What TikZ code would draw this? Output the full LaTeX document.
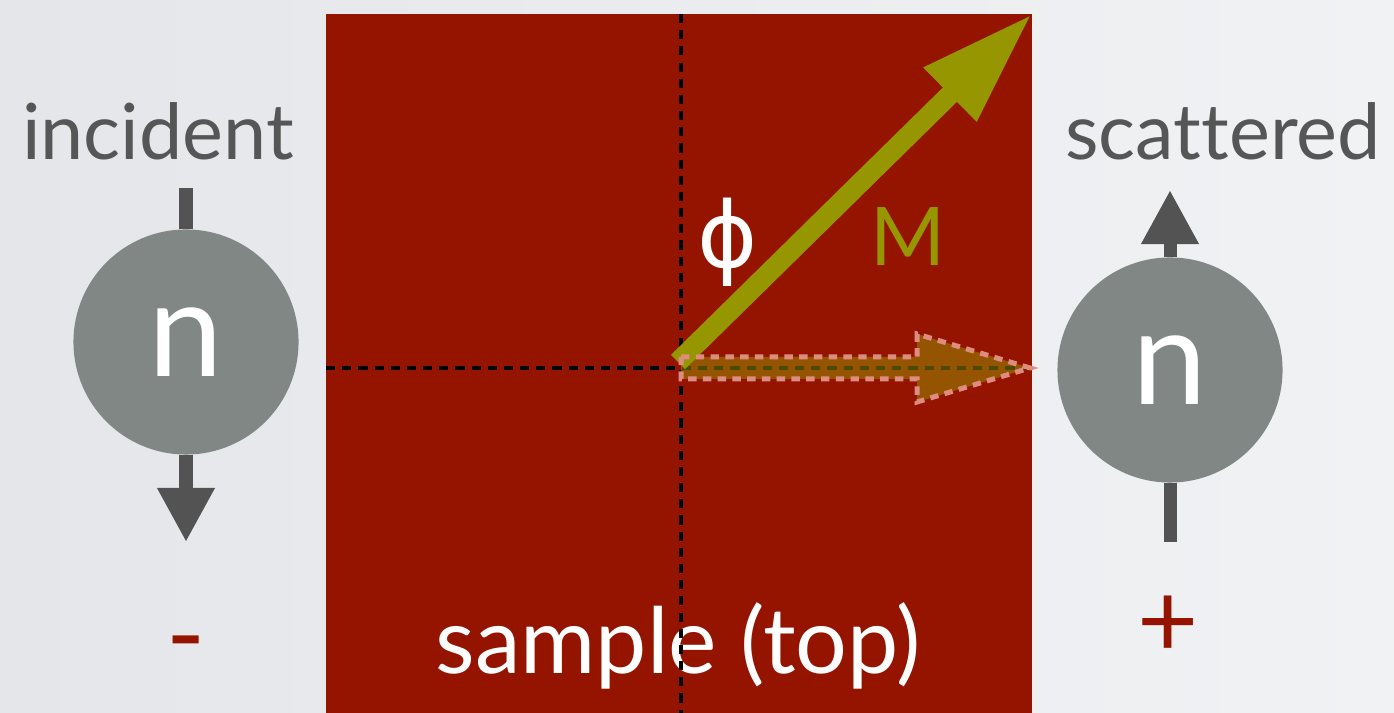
\documentclass[tikz,border=0pt]{standalone}
\usepackage{fontspec}
\setmainfont{Lato}[Ligatures=NoCommon]
\newfontfamily\greekfont{DejaVu Sans}
\usetikzlibrary{arrows.meta}

\definecolor{bgleft}{RGB}{229,230,234}
\definecolor{bgright}{RGB}{241,242,244}
\definecolor{samplered}{RGB}{148,20,0}
\definecolor{magolive}{RGB}{150,150,0}
\definecolor{neutrongray}{RGB}{129,135,132}
\definecolor{spingray}{RGB}{83,83,83}
\definecolor{labelgray}{RGB}{85,87,87}
\definecolor{dashpink}{RGB}{222,140,128}

\tikzset{
  neutron/.style={circle,fill=neutrongray,minimum size=2.25cm,inner sep=0pt,
    text=white,font=\fontsize{38}{38}\selectfont},
  spin/.style={draw=spingray,line width=0.13cm,
    -{Triangle[length=0.54cm,width=0.54cm]}},
  spinline/.style={draw=spingray,line width=0.13cm},
  axis/.style={black,line width=0.045cm,dash pattern=on 2.6pt off 2pt},
  beamlabel/.style={text=labelgray,anchor=base,font=\fontsize{22}{22}\selectfont},
  sign/.style={text=samplered,font=\fontsize{30}{30}\selectfont}
}

\begin{document}
\begin{tikzpicture}[x=0.01cm,y=-0.01cm]
  \useasboundingbox (0,0) rectangle (1394,713);
  \shade[left color=bgleft,right color=bgright] (0,0) rectangle (1394,713);

  % sample seen from the top
  \fill[samplered] (326,14) rectangle (1032,713);
  \node[text=white,anchor=base,font=\fontsize{26}{26}\selectfont] (sample) at (678,673) {sample (top)};

  \coordinate (origin) at (681,368);
  \coordinate (vtop) at (681,14);
  \coordinate (vbot) at (681,713);
  \coordinate (hleft) at (326,368);
  \coordinate (hright) at (1032,368);
  \draw[axis] (vtop) -- (vbot);
  \draw[axis] (hleft) -- (hright);

  % magnetisation
  \coordinate (mtail) at (678,362);
  \coordinate (mtip) at (1032,14);
  \draw[magolive,line width=0.2cm,-{Triangle[length=1.15cm,width=0.7cm]}] (mtail) -- (mtip);
  \node[text=magolive,font=\fontsize{23}{23}\selectfont] (magM) at (908,237) {M};
  \node[text=white,font=\greekfont\fontsize{26}{26}\selectfont] (phi) at (728,242) {ϕ};

  % projection onto the scattering direction
  \filldraw[fill=magolive,fill opacity=0.5,draw=dashpink,
    line width=0.05cm,dash pattern=on 2.4pt off 1.8pt]
    (681,357) -- (917,357) -- (917,334) -- (1030,368) -- (917,402) -- (917,379) -- (681,379) -- cycle;

  % incident neutron
  \node[beamlabel] (incident) at (158,160) {incident};
  \coordinate (intail) at (186,188);
  \coordinate (intip) at (186,542);
  \node[neutron] (nin) at (186,342) {n};
  \draw[spinline] (intail) -- (nin.north);
  \draw[spin] (nin.south) -- (intip);
  \node[sign] (minus) at (186,654) {-};

  % scattered neutron
  \node[beamlabel] (scattered) at (1223,160) {scattered};
  \coordinate (sctail) at (1170,542);
  \coordinate (sctip) at (1170,190);
  \node[neutron] (nsc) at (1170,370) {n};
  \draw[spinline] (sctail) -- (nsc.south);
  \draw[spin] (nsc.north) -- (sctip);
  \node[sign] (plus) at (1168,627) {+};
\end{tikzpicture}
\end{document}
